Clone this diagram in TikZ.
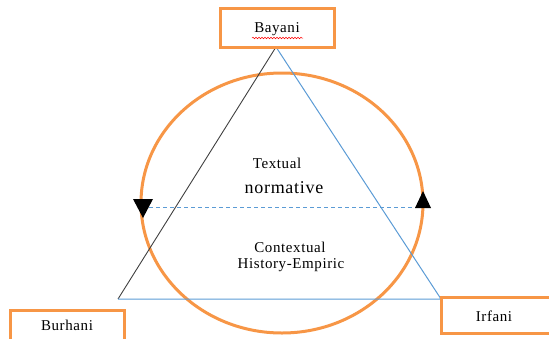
\documentclass[tikz,border=0pt]{standalone}
\usepackage{fontspec}
\setmainfont{Liberation Serif}
\newfontfamily\wordfont[LetterSpace=4]{Liberation Serif}
\usetikzlibrary{decorations.pathmorphing}
\definecolor{boxorange}{HTML}{F79646}
\definecolor{lineblue}{HTML}{5B9BD5}

\begin{document}
\begin{tikzpicture}[x=1pt, y=-1pt,
  every node/.style={font=\wordfont\fontsize{15}{17}\selectfont},
  corner/.style={draw=boxorange, line width=3pt, fill=white, minimum width=114pt, minimum height=36pt, inner sep=0pt},
  head/.style={fill=black}]
  \useasboundingbox (0,0) rectangle (549,338);
  % triangle corners
  \coordinate (top) at (276,47);
  \coordinate (left) at (118,299);
  \coordinate (right) at (441,299);
  % circle and its axis
  \draw[boxorange, line width=3pt] (282,203) ellipse [x radius=141, y radius=130];
  \coordinate (axisL) at (142,207);
  \coordinate (axisR) at (423,207);
  \draw[lineblue, line width=1pt, dash pattern=on 4pt off 3pt] (axisL) -- (axisR);
  \draw[black!75, line width=0.9pt] (left) -- (top);
  \draw[lineblue, line width=1pt] (top) -- (right) -- (left);
  % direction marks
  \fill[head] (133,199) -- (153,199) -- (143,218) -- cycle;
  \fill[head] (415,208) -- (431,208) -- (423,191) -- cycle;
  % corner boxes
  \node[corner, minimum height=39pt] (bayani) at (277,27.5) {};
  \node (bayanitext) at (277,29) {Bayani};
  \draw[red, line width=0.5pt, decorate, decoration={snake, amplitude=0.8pt, segment length=3pt}] (252,38) -- (303,38);
  \node[corner] (burhani) at (67.5,328) {};
  \node (burhanitext) at (67,325) {Burhani};
  \node[corner] (irfani) at (498,315) {};
  \node (irfanitext) at (494,316) {Irfani};
  % inner texts
  \node (textual) at (277,163) {Textual};
  \node[font=\wordfont\fontsize{18}{20}\selectfont] (normative) at (284,188) {normative};
  \node (contextual) at (290,247) {Contextual};
  \node (history) at (291,265) {History-Empiric};
\end{tikzpicture}
\end{document}
